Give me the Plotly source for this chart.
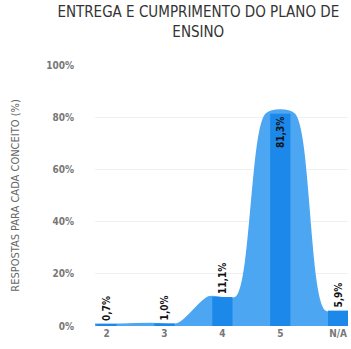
import plotly.graph_objects as go

categories = ["2", "3", "4", "5", "N/A"]
values = [0.7, 1.0, 11.1, 81.3, 5.9]
labels = ["0,7%", "1,0%", "11,1%", "81,3%", "5,9%"]
y_ticks = [0, 20, 40, 60, 80, 100]
y_ticktext = ["0%", "20%", "40%", "60%", "80%", "100%"]

FONT = "DejaVu Sans Condensed, sans-serif"
x_range = [-0.2, 4.17]
half = 0.24

idx = list(range(len(categories)))
ax, ay = [x_range[0]], [values[0]]
for i, v in zip(idx, values):
    ax += [i - half, i + half]
    ay += [v, v]
ax.append(x_range[1])
ay.append(values[-1])

fig = go.Figure()
fig.add_trace(go.Scatter(
    x=ax, y=ay, mode="lines", line=dict(shape="spline", smoothing=0.75, color="#4da6f2", width=1.5),
    fill="tozeroy", fillcolor="#4da6f2", hoverinfo="skip", showlegend=False))

positions = ["inside" if v > 50 else "outside" for v in values]
fig.add_trace(go.Bar(
    x=idx, y=values, width=0.35, marker=dict(color="#1c88ea", line=dict(width=0)),
    text=labels, textposition=positions, insidetextanchor="end", textangle=-90,
    textfont=dict(family=FONT, size=10, color="#111", weight="bold"),
    constraintext="none", cliponaxis=False, showlegend=False,
    xaxis="x2", yaxis="y2"))

tickfont = dict(family=FONT, size=10, color="#777", weight="bold")
fig.update_layout(
    width=351, height=349,
    margin=dict(l=95, r=3, t=65, b=23),
    paper_bgcolor="white", plot_bgcolor="white",
    font=dict(family=FONT, color="#555"),
    title=dict(text="ENTREGA E CUMPRIMENTO DO PLANO DE<br>ENSINO", x=0.565, xanchor="center",
               yref="container", y=0.95, yanchor="top", font=dict(family=FONT, size=15, color="#333")),
    xaxis=dict(range=x_range, tickvals=idx, ticktext=categories, showgrid=False, zeroline=False,
               tickfont=tickfont, ticks="", showline=False),
    yaxis=dict(range=[0, 100], tickvals=y_ticks, ticktext=y_ticktext, showgrid=True,
               gridcolor="#f0f0f0", zeroline=False,
               tickfont=tickfont, ticklabelstandoff=20,
               title=dict(text="RESPOSTAS PARA CADA CONCEITO (%)",
                          font=dict(family=FONT, size=11, color="#666"), standoff=24)),
    xaxis2=dict(overlaying="x", range=x_range, visible=False),
    yaxis2=dict(overlaying="y", range=[0, 100], visible=False),
)

fig.write_html("out.html", config={"displayModeBar": False},
               post_script="document.body.style.margin='0';")
